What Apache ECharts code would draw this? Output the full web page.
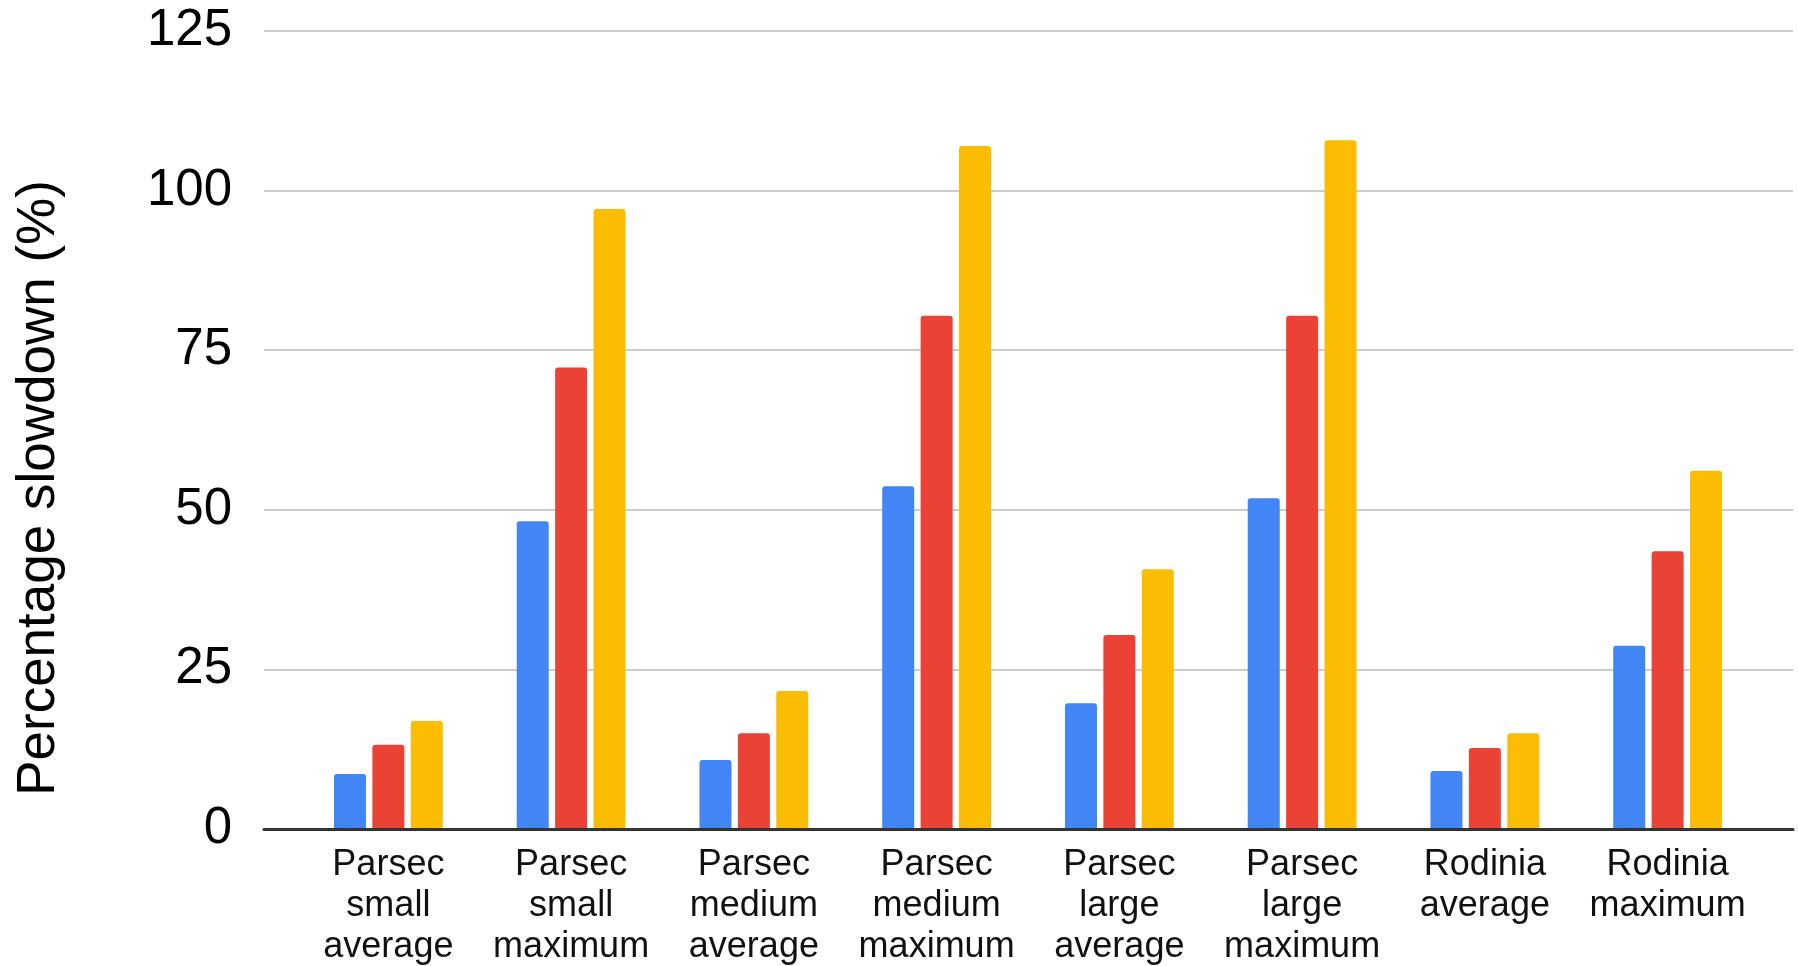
<!DOCTYPE html>
<html>
<head>
<meta charset="utf-8">
<script src="https://cdn.jsdelivr.net/npm/echarts@6/dist/echarts.min.js"></script>
<style>
  html, body { margin: 0; padding: 0; background: #fff; }
  #chart { width: 1798px; height: 966px; }
</style>
</head>
<body>
<div id="chart"></div>
<script>
// Benchmark suites and slowdown statistics
const categories = [
  'Parsec small average', 'Parsec small maximum',
  'Parsec medium average', 'Parsec medium maximum',
  'Parsec large average', 'Parsec large maximum',
  'Rodinia average', 'Rodinia maximum'
];
const seriesBlue = [8.6, 48.2, 10.8, 53.7, 19.7, 51.8, 9.1, 28.7];
const seriesRed = [13.2, 72.3, 15.0, 80.4, 30.4, 80.4, 12.7, 43.5];
const seriesYellow = [16.9, 97.1, 21.6, 107.0, 40.7, 107.9, 15.0, 56.1];
const yTicks = { min: 0, max: 125, interval: 25 };
const yTitle = 'Percentage slowdown (%)';

const FONT = '"Liberation Sans", Arial, sans-serif';
const chart = echarts.init(document.getElementById('chart'));

function barSeries(name, data, color) {
  return {
    name: name,
    type: 'bar',
    xAxisIndex: 1,
    yAxisIndex: 1,
    data: data,
    barWidth: 32,
    barGap: '20%',
    itemStyle: { color: color, borderRadius: [3, 3, 0, 0] },
    z: 3
  };
}

chart.setOption({
  animation: false,
  backgroundColor: '#ffffff',
  grid: [
    // frame grid: gridlines, baseline, y labels and title
    { left: 264, right: 5, top: 31, bottom: 137, containLabel: false, outerBoundsMode: 'none' },
    // inner grid holding the category bands
    { left: 297, right: 39, top: 31, bottom: 137, containLabel: false, outerBoundsMode: 'none' }
  ],
  xAxis: [
    {
      type: 'value', gridIndex: 0, min: 0, max: 1,
      axisLine: { show: true, onZero: false, lineStyle: { color: '#333333', width: 3 } },
      axisTick: { show: false },
      axisLabel: { show: false },
      splitLine: { show: false },
      z: 5
    },
    {
      type: 'category', gridIndex: 1, data: categories,
      axisLine: { show: false },
      axisTick: { show: false },
      axisLabel: {
        interval: 0,
        margin: 16,
        color: '#111111',
        fontFamily: FONT,
        fontSize: 36,
        lineHeight: 41,
        formatter: v => v.split(' ').join('\n')
      }
    }
  ],
  yAxis: [
    {
      type: 'value', gridIndex: 0,
      min: yTicks.min, max: yTicks.max, interval: yTicks.interval,
      axisLine: { show: false },
      axisTick: { show: false },
      axisLabel: { margin: 32, color: '#000000', fontFamily: FONT, fontSize: 51 },
      splitLine: { lineStyle: { color: '#cccccc', width: 2 } },
      name: yTitle,
      nameLocation: 'middle',
      nameGap: 198,
      nameTextStyle: {
        color: '#000000', fontFamily: FONT, fontSize: 53,
        padding: [0, 116, 0, 0]
      }
    },
    {
      type: 'value', gridIndex: 1,
      min: yTicks.min, max: yTicks.max, interval: yTicks.interval,
      show: false
    }
  ],
  series: [
    barSeries('Configuration 1', seriesBlue, '#4285F4'),
    barSeries('Configuration 2', seriesRed, '#EA4335'),
    barSeries('Configuration 3', seriesYellow, '#FBBC04')
  ]
});
</script>
</body>
</html>
